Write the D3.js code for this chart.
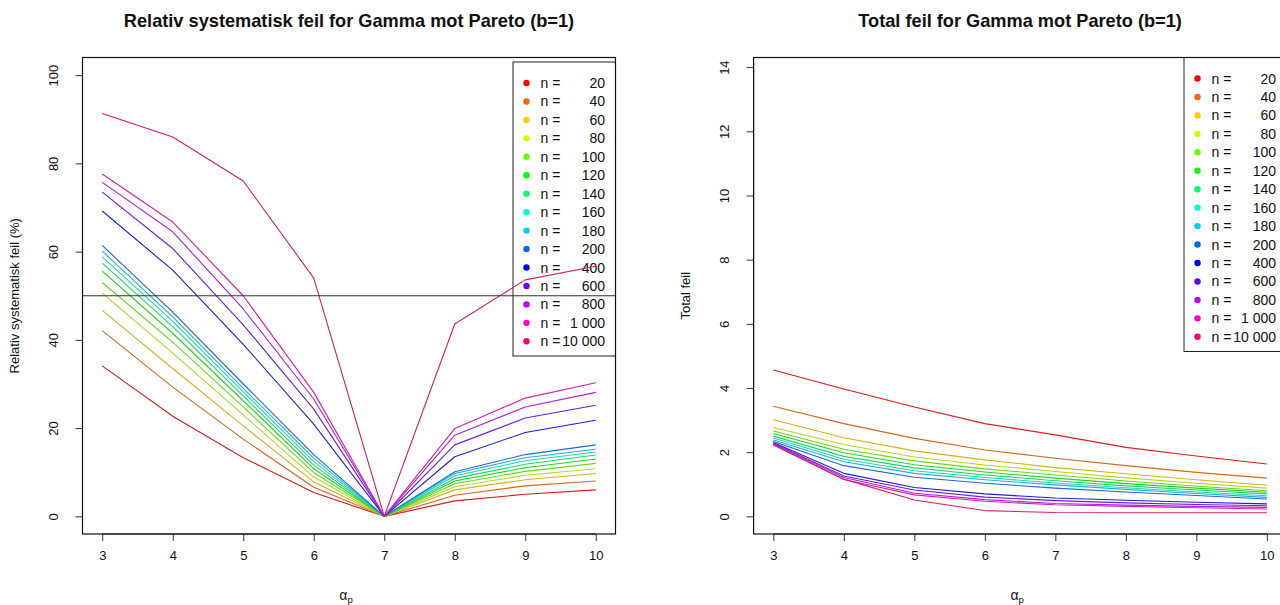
<!DOCTYPE html>
<html><head><meta charset="utf-8">
<script src="https://cdn.jsdelivr.net/npm/d3@7"></script>
<style>
body{margin:0;background:#fff}
svg{display:block}
text{font-family:"Liberation Sans",Arial,Helvetica,sans-serif;fill:#111}
</style>
</head><body>
<svg id="chart" width="1280" height="605"></svg>
<script>
// ---------- data ----------
const alphas = [3, 4, 5, 6, 7, 8, 9, 10];
const sampleSizes = [20, 40, 60, 80, 100, 120, 140, 160, 180, 200, 400, 600, 800, 1000, 10000];
const seriesColors = ["#FF0000","#FF6600","#FFCC00","#CCFF00","#66FF00","#00FF00","#00FF66","#00FFCC",
                      "#00CCFF","#0066FF","#0000FF","#6600FF","#CC00FF","#FF00CC","#FF0066"];
const biasTicks = [0, 20, 40, 60, 80, 100];
const totalTicks = [0, 2, 4, 6, 8, 10, 12, 14];
const xTicks = [3, 4, 5, 6, 7, 8, 9, 10];
const biasRefLine = 50;

// Relative systematic error (%) per n, alpha = 3..10
const bias_n20    = [34.1, 22.7, 13.3,  5.4, 0,  3.5,  5.0,  6.0];
const bias_n40    = [42.1, 29.3, 17.5,  6.6, 0,  4.8,  6.9,  8.0];
const bias_n60    = [46.7, 33.5, 20.5,  7.8, 0,  6.0,  8.3,  9.7];
const bias_n80    = [50.6, 37.0, 23.0,  8.9, 0,  6.7,  9.3, 10.8];
const bias_n100   = [53.0, 39.5, 24.8,  9.9, 0,  7.4, 10.2, 12.0];
const bias_n120   = [55.6, 41.5, 26.2, 10.8, 0,  8.0, 11.0, 13.0];
const bias_n140   = [57.4, 43.0, 27.3, 11.6, 0,  8.6, 11.8, 13.9];
const bias_n160   = [58.8, 44.2, 28.2, 12.4, 0,  9.2, 12.6, 14.6];
const bias_n180   = [60.1, 45.2, 29.0, 13.2, 0,  9.7, 13.3, 15.2];
const bias_n200   = [61.4, 46.3, 30.0, 14.0, 0, 10.1, 14.0, 16.2];
const bias_n400   = [69.2, 55.8, 39.0, 20.9, 0, 13.5, 19.0, 21.8];
const bias_n600   = [73.5, 60.7, 43.4, 24.3, 0, 16.2, 22.3, 25.2];
const bias_n800   = [75.7, 64.5, 47.0, 26.6, 0, 18.4, 24.8, 28.1];
const bias_n1000  = [77.6, 66.7, 50.0, 28.1, 0, 19.9, 26.8, 30.3];
const bias_n10000 = [91.3, 86.0, 76.0, 54.0, 0, 43.6, 53.6, 56.7];

// Total error per n, alpha = 3..10
const total_n20    = [4.56, 3.97, 3.41, 2.89, 2.54, 2.15, 1.88, 1.63];
const total_n40    = [3.43, 2.89, 2.43, 2.07, 1.81, 1.58, 1.37, 1.19];
const total_n60    = [3.01, 2.45, 2.04, 1.76, 1.52, 1.33, 1.14, 0.97];
const total_n80    = [2.77, 2.24, 1.85, 1.60, 1.40, 1.20, 1.03, 0.88];
const total_n100   = [2.66, 2.09, 1.73, 1.48, 1.29, 1.10, 0.94, 0.80];
const total_n120   = [2.58, 1.98, 1.61, 1.38, 1.19, 1.02, 0.88, 0.75];
const total_n140   = [2.50, 1.87, 1.51, 1.29, 1.11, 0.95, 0.82, 0.70];
const total_n160   = [2.44, 1.78, 1.42, 1.21, 1.04, 0.89, 0.76, 0.64];
const total_n180   = [2.38, 1.70, 1.34, 1.14, 0.98, 0.84, 0.71, 0.59];
const total_n200   = [2.33, 1.58, 1.22, 1.03, 0.88, 0.76, 0.65, 0.54];
const total_n400   = [2.30, 1.34, 0.90, 0.70, 0.57, 0.50, 0.44, 0.39];
const total_n600   = [2.28, 1.26, 0.82, 0.60, 0.49, 0.42, 0.37, 0.33];
const total_n800   = [2.26, 1.21, 0.72, 0.52, 0.40, 0.35, 0.31, 0.28];
const total_n1000  = [2.24, 1.15, 0.67, 0.47, 0.36, 0.31, 0.27, 0.23];
const total_n10000 = [2.22, 1.16, 0.51, 0.18, 0.12, 0.11, 0.11, 0.11];

const biasSeries = [bias_n20,bias_n40,bias_n60,bias_n80,bias_n100,bias_n120,bias_n140,bias_n160,
                    bias_n180,bias_n200,bias_n400,bias_n600,bias_n800,bias_n1000,bias_n10000];
const totalSeries = [total_n20,total_n40,total_n60,total_n80,total_n100,total_n120,total_n140,total_n160,
                     total_n180,total_n200,total_n400,total_n600,total_n800,total_n1000,total_n10000];

// ---------- drawing ----------
const svg = d3.select("#chart");
svg.append("rect").attr("width",1280).attr("height",605).attr("fill","#fff");

const fmtN = n => d3.format(",")(n).replace(/,/g, " ");

function panel(opt) {
  const g = svg.append("g");
  const x0 = opt.left, x1 = opt.left + 533;
  const x = d3.scaleLinear().domain([2.72, 10.28]).range([x0, x1]);
  const y = d3.scaleLinear().domain(opt.yDomain).range([534, 57.5]);

  // title
  g.append("text").attr("x", (x0 + x1) / 2).attr("y", 26.5)
    .attr("text-anchor","middle").attr("font-weight","bold").attr("font-size", 18.2)
    .text(opt.title);

  // y axis title
  g.append("text").attr("transform", `translate(${x0 - 64},${(57.5 + 534) / 2}) rotate(-90)`)
    .attr("text-anchor","middle").attr("font-size", 13).text(opt.yTitle);

  // x axis title alpha_p
  const xt = g.append("text").attr("x", (x0 + x1) / 2 - 3).attr("y", 600)
    .attr("text-anchor","middle").attr("font-size", 14);
  xt.append("tspan").text("\u03B1");
  xt.append("tspan").attr("font-size", 9.5).attr("dy", 3).text("p");

  // x axis
  const xAxis = d3.axisBottom(x).tickValues(xTicks).tickSize(7).tickPadding(10).tickFormat(d3.format("d"));
  const gx = g.append("g").attr("transform", "translate(0,534)").call(xAxis);
  gx.selectAll("text").attr("font-size", 13).attr("fill","#111");
  gx.selectAll("line").attr("stroke","#333");
  gx.select(".domain").attr("stroke","#333").attr("d", `M${x(xTicks[0])},0H${x(xTicks[xTicks.length-1])}`);

  // y axis (labels rotated, parallel to axis)
  const yAxis = d3.axisLeft(y).tickValues(opt.yTicks).tickSize(7).tickFormat(d3.format("d"));
  const gy = g.append("g").attr("transform", `translate(${x0},0)`).call(yAxis);
  gy.selectAll("line").attr("stroke","#333");
  gy.select(".domain").attr("stroke","#333").attr("d", `M0,${y(opt.yTicks[0])}V${y(opt.yTicks[opt.yTicks.length-1])}`);
  gy.selectAll("text").attr("font-size", 13).attr("fill","#111")
    .attr("x", null)
    .attr("text-anchor","middle")
    .attr("transform", "translate(-29.5,0) rotate(-90)")
    .attr("dy", "0.35em");

  // legend
  const lg = g.append("g");
  lg.append("rect").attr("x", opt.legX).attr("y", opt.legTop)
    .attr("width", opt.legW).attr("height", 294)
    .attr("fill","none").attr("stroke","#222").attr("stroke-width",1);
  sampleSizes.forEach((n, i) => {
    const ly = opt.legTop + 21 + i * 18.45;
    lg.append("circle").attr("cx", opt.legX + 13.5).attr("cy", ly).attr("r", 3.2).attr("fill", seriesColors[i]);
    lg.append("text").attr("x", opt.legX + 27.5).attr("y", ly).attr("dy","0.36em")
      .attr("font-size", 14).text("n =");
    lg.append("text").attr("x", opt.legX + 92).attr("y", ly).attr("dy","0.36em")
      .attr("text-anchor","end").attr("font-size", 14).text(fmtN(n));
  });

  // lines
  const line = d3.line().x((d, i) => x(alphas[i])).y(d => y(d));
  opt.series.forEach((s, i) => {
    const c = d3.interpolateRgb(seriesColors[i], "#707070")(0.28);
    g.append("path").datum(s).attr("d", line).attr("fill","none")
      .attr("stroke", c).attr("stroke-width", 1.1).attr("stroke-linejoin","round");
  });

  if (opt.refLine !== undefined) {
    g.append("line").attr("x1", x0).attr("x2", x1)
      .attr("y1", y(opt.refLine)).attr("y2", y(opt.refLine))
      .attr("stroke","#333").attr("stroke-width",1.1);
  }

  // box
  g.append("rect").attr("x", x0).attr("y", 57.5).attr("width", x1 - x0).attr("height", 534 - 57.5)
    .attr("fill","none").attr("stroke","#111").attr("stroke-width",1.2);
}

panel({
  left: 82.5, yDomain: [-4, 104], yTicks: biasTicks,
  title: "Relativ systematisk feil for Gamma mot Pareto (b=1)",
  yTitle: "Relativ systematisk feil (%)",
  series: biasSeries, refLine: biasRefLine,
  legX: 513, legTop: 62, legW: 102.5
});
panel({
  left: 753.6, yDomain: [-0.55, 14.3], yTicks: totalTicks,
  title: "Total feil for Gamma mot Pareto (b=1)",
  yTitle: "Total feil",
  series: totalSeries,
  legX: 1184, legTop: 57.5, legW: 110
});
</script>
</body></html>
